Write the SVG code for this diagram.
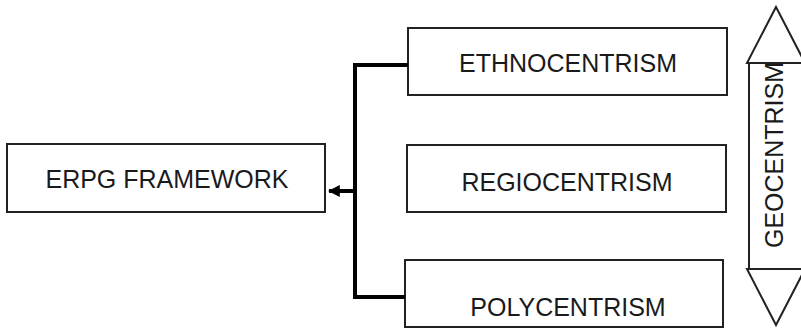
<svg xmlns="http://www.w3.org/2000/svg" width="801" height="332" viewBox="0 0 801 332">
  <style>
    .box { fill: #ffffff; stroke: #222222; stroke-width: 2; }
    .lbl { font-family: "Liberation Sans", Arial, sans-serif; font-size: 25px; fill: #1a1a1a; text-anchor: middle; }
    .wire { fill: none; stroke: #000000; stroke-width: 4; }
  </style>
  <defs>
    <marker id="head" viewBox="0 0 10 10" refX="9" refY="5" markerWidth="3" markerHeight="3" orient="auto" markerUnits="strokeWidth">
      <path d="M0,0 L10,5 L0,10 Z" fill="#000000"/>
    </marker>
  </defs>

  <g id="erpg-framework">
    <rect class="box" x="7" y="144" width="318" height="68"/>
    <text class="lbl" x="167" y="188">ERPG FRAMEWORK</text>
  </g>

  <g id="ethnocentrism">
    <rect class="box" x="408" y="28" width="319" height="67"/>
    <text class="lbl" x="568" y="72">ETHNOCENTRISM</text>
  </g>

  <g id="regiocentrism">
    <rect class="box" x="407" y="145" width="319" height="67"/>
    <text class="lbl" x="567" y="191">REGIOCENTRISM</text>
  </g>

  <g id="polycentrism">
    <rect class="box" x="405" y="260" width="318" height="67"/>
    <text class="lbl" x="568" y="316">POLYCENTRISM</text>
  </g>

  <g id="geocentrism">
    <path class="box" d="M776,7 L805,63 L803,63 L803,269 L805,269 L776,325 L747,269 L749,269 L749,63 L747,63 Z"/>
    <line x1="749" y1="63" x2="803" y2="63" stroke="#222222" stroke-width="2"/>
    <line x1="749" y1="269" x2="803" y2="269" stroke="#222222" stroke-width="2"/>
    <text class="lbl" transform="translate(783,155) rotate(-90)" x="0" y="0">GEOCENTRISM</text>
  </g>

  <g id="connectors">
    <polyline class="wire" points="408,65 355,65 355,297 405,297"/>
    <line class="wire" x1="355" y1="191" x2="329" y2="191" marker-end="url(#head)"/>
  </g>
</svg>
